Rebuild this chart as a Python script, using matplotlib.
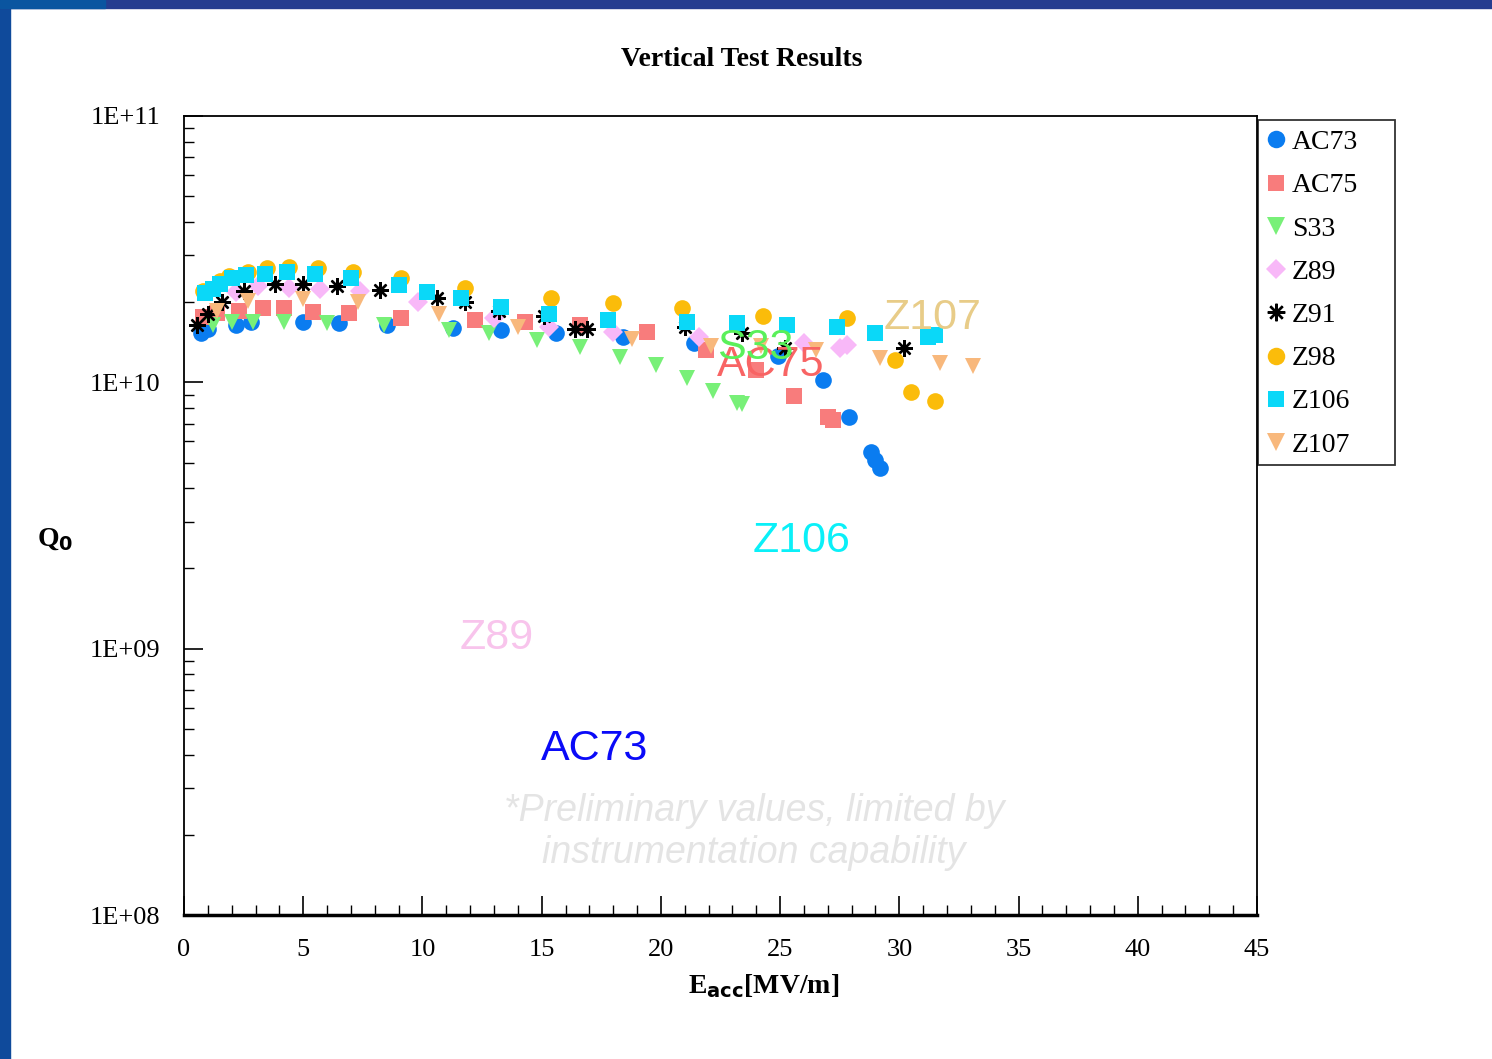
import matplotlib
matplotlib.use("Agg")
import matplotlib.pyplot as plt
from matplotlib.patches import Rectangle
from matplotlib.ticker import FixedLocator, LogLocator, NullFormatter

# Vertical test data: Eacc [MV/m] and Q0
ac73_e = [0.7, 1.0, 2.2, 2.8, 5.0, 6.5, 8.5, 11.3, 13.3, 15.6, 18.4, 21.4, 24.9, 26.8, 27.9, 28.8, 29.0, 29.2]
ac73_q = [1.53e10, 1.58e10, 1.64e10, 1.68e10, 1.68e10, 1.67e10, 1.64e10, 1.6e10, 1.57e10, 1.53e10, 1.48e10,
          1.40e10, 1.26e10, 1.02e10, 7.4e9, 5.46e9, 5.1e9, 4.76e9]

ac75_e = [0.8, 1.4, 2.3, 3.3, 4.2, 5.4, 6.9, 9.1, 12.2, 14.3, 16.6, 19.4, 21.9, 24.0, 25.6, 27.0, 27.2]
ac75_q = [1.76e10, 1.82e10, 1.86e10, 1.90e10, 1.90e10, 1.83e10, 1.82e10, 1.75e10, 1.71e10, 1.68e10, 1.64e10,
          1.54e10, 1.32e10, 1.11e10, 8.9e9, 7.4e9, 7.2e9]

s33_e = [1.2, 2.0, 2.9, 4.2, 6.0, 8.4, 11.1, 12.8, 14.8, 16.6, 18.3, 19.8, 21.1, 22.2, 23.2, 23.4]
s33_q = [1.64e10, 1.68e10, 1.69e10, 1.68e10, 1.67e10, 1.64e10, 1.57e10, 1.53e10, 1.44e10, 1.36e10, 1.25e10,
         1.16e10, 1.04e10, 9.3e9, 8.4e9, 8.3e9]

z89_e = [2.2, 3.1, 4.4, 5.7, 7.4, 9.8, 13.0, 15.3, 18.0, 21.6, 26.0, 27.5, 27.8]
z89_q = [2.18e10, 2.29e10, 2.27e10, 2.25e10, 2.21e10, 2.0e10, 1.75e10, 1.61e10, 1.54e10, 1.48e10, 1.40e10,
         1.34e10, 1.38e10]

z91_e = [0.55, 1.0, 1.6, 2.5, 3.8, 5.0, 6.4, 8.2, 10.6, 11.8, 13.2, 15.1, 16.4, 16.9, 21.0, 23.4, 25.2, 30.2]
z91_q = [1.64e10, 1.81e10, 2.01e10, 2.2e10, 2.33e10, 2.33e10, 2.29e10, 2.23e10, 2.07e10, 2.0e10, 1.86e10,
         1.78e10, 1.58e10, 1.58e10, 1.61e10, 1.53e10, 1.35e10, 1.34e10]

z98_e = [0.8, 1.5, 1.9, 2.7, 3.5, 4.4, 5.6, 7.1, 9.1, 11.8, 15.4, 18.0, 20.9, 24.3, 27.8, 29.8, 30.5, 31.5]
z98_q = [2.21e10, 2.41e10, 2.5e10, 2.6e10, 2.68e10, 2.70e10, 2.68e10, 2.59e10, 2.46e10, 2.27e10, 2.07e10,
         1.98e10, 1.90e10, 1.78e10, 1.74e10, 1.21e10, 9.2e9, 8.5e9]

z106_e = [0.9, 1.2, 1.5, 2.0, 2.6, 3.4, 4.3, 5.5, 7.0, 9.0, 10.2, 11.6, 13.3, 15.3, 17.8, 21.1, 23.2, 25.3,
          27.4, 29.0, 31.2, 31.5]
z106_q = [2.16e10, 2.25e10, 2.35e10, 2.46e10, 2.52e10, 2.56e10, 2.59e10, 2.56e10, 2.46e10, 2.31e10, 2.18e10,
          2.07e10, 1.91e10, 1.81e10, 1.72e10, 1.68e10, 1.67e10, 1.64e10, 1.61e10, 1.53e10, 1.48e10, 1.50e10]

z107_e = [1.4, 2.7, 5.0, 7.3, 10.7, 14.0, 18.8, 22.1, 24.2, 26.5, 29.2, 31.7, 33.1]
z107_q = [1.85e10, 2.02e10, 2.05e10, 2.0e10, 1.8e10, 1.62e10, 1.46e10, 1.37e10, 1.37e10, 1.32e10, 1.23e10,
          1.18e10, 1.15e10]

names = ["AC73", "AC75", "S33", "Z89", "Z91", "Z98", "Z106", "Z107"]
xs = [ac73_e, ac75_e, s33_e, z89_e, z91_e, z98_e, z106_e, z107_e]
ys = [ac73_q, ac75_q, s33_q, z89_q, z91_q, z98_q, z106_q, z107_q]
colors = ["#0a7cf0", "#f87c7c", "#78f078", "#f8b8f8", "#000000", "#fbbc0a", "#0ad8f8", "#f8b87c"]
markers = ["o", "s", "v", "D", (8, 2, 0), "o", "s", "v"]
sizes = [12, 11, 12, 10, 12, 12, 11, 12]

# big labels sitting inside the plot (drawn in this order, last on top)
tag_text = ["Z107", "AC75", "S33", "Z106", "Z89", "AC73"]
tag_color = ["#e8cc88", "#f86464", "#5af05a", "#0af0f8", "#f8c4ec", "#0a0af8"]
tag_x = [31.4, 24.6, 23.95, 25.9, 13.1, 17.2]
tag_y = [1.75e10, 1.16e10, 1.34e10, 2.53e9, 1.10e9, 4.19e8]

serif = ["Liberation Serif", "DejaVu Serif"]

fig = plt.figure(figsize=(14.92, 10.59), dpi=100)
fig.patches.append(Rectangle((0, 0), 10 / 1492, 1, transform=fig.transFigure, color="#0f4a9b", zorder=0))
fig.patches.append(Rectangle((0, 1 - 8 / 1059), 1, 8 / 1059, transform=fig.transFigure, color="#253d90", zorder=0))
fig.patches.append(Rectangle((0, 1 - 8 / 1059), 105 / 1492, 8 / 1059, transform=fig.transFigure,
                             color="#0a55a0", zorder=0))
# legend box, drawn by hand so its width matches
fig.patches.append(Rectangle((1258 / 1492, 1 - 465 / 1059), 137 / 1492, 345 / 1059, transform=fig.transFigure,
                             facecolor="none", edgecolor="#333333", linewidth=1.3, zorder=-1))

ax = fig.add_axes([184 / 1492, 1 - 915 / 1059, (1257 - 184) / 1492, (915 - 116) / 1059])

for x, y, name, c, m, s in zip(xs, ys, names, colors, markers, sizes):
    mew = 1.7 if name == "Z91" else 0
    ax.plot(x, y, linestyle="none", marker=m, markersize=s, color=c, markeredgecolor=c,
            markeredgewidth=mew, label=name)

for i, (t, c, x, y) in enumerate(zip(tag_text, tag_color, tag_x, tag_y)):
    ax.text(x, y, t, color=c, fontsize=31, family="Liberation Sans", ha="center", va="center", zorder=5 + i)

ax.text(23.9, 2.05e8, "*Preliminary values, limited by\ninstrumentation capability", color="#e4e4e4",
        fontsize=27, style="italic", family="Liberation Sans", ha="center", va="center",
        linespacing=1.2, zorder=1)

ax.set_yscale("log")
ax.set_xlim(0, 45)
ax.set_ylim(1e8, 1e11)
ax.xaxis.set_major_locator(FixedLocator(range(0, 46, 5)))
ax.xaxis.set_minor_locator(FixedLocator(range(0, 46)))
ax.yaxis.set_major_locator(FixedLocator([1e8, 1e9, 1e10, 1e11]))
ax.yaxis.set_minor_locator(LogLocator(base=10, subs=range(2, 10)))
ax.yaxis.set_minor_formatter(NullFormatter())
ax.set_yticklabels(["1E+08", "1E+09", "1E+10", "1E+11"], family=serif, fontsize=19)
ax.set_xticklabels([str(v) for v in range(0, 46, 5)], family=serif, fontsize=19)
ax.tick_params(which="major", direction="in", length=14, width=1.2, top=False, right=False)
ax.tick_params(which="minor", direction="in", length=7, width=1, top=False, right=False)
ax.tick_params(axis="x", which="major", pad=17)
ax.tick_params(axis="y", which="major", pad=17)
for side in ["left", "top", "right"]:
    ax.spines[side].set_linewidth(1.3)
ax.spines["bottom"].set_linewidth(2.5)

ax.set_title("Vertical Test Results", family=serif, fontsize=20, fontweight="bold", pad=36, x=0.52)
ax.set_xlabel(r"E$_{\mathbf{acc}}$[MV/m]", family=serif, fontsize=20, fontweight="bold")
ax.xaxis.set_label_coords(0.54, -0.072)
ax.set_ylabel(r"Q$_{\mathbf{0}}$", family=serif, fontsize=20, fontweight="bold", rotation=0,
              va="center", ha="center")
ax.yaxis.set_label_coords(-0.12, 0.47)

leg = ax.legend(loc="upper left", bbox_to_anchor=(1.0, 0.995), borderaxespad=0, frameon=False,
                prop={"family": serif, "size": 20},
                handlelength=0.7, handletextpad=0.2, labelspacing=0.64, borderpad=0.35,
                markerscale=1.05)

fig.savefig("out.png", dpi=100)
